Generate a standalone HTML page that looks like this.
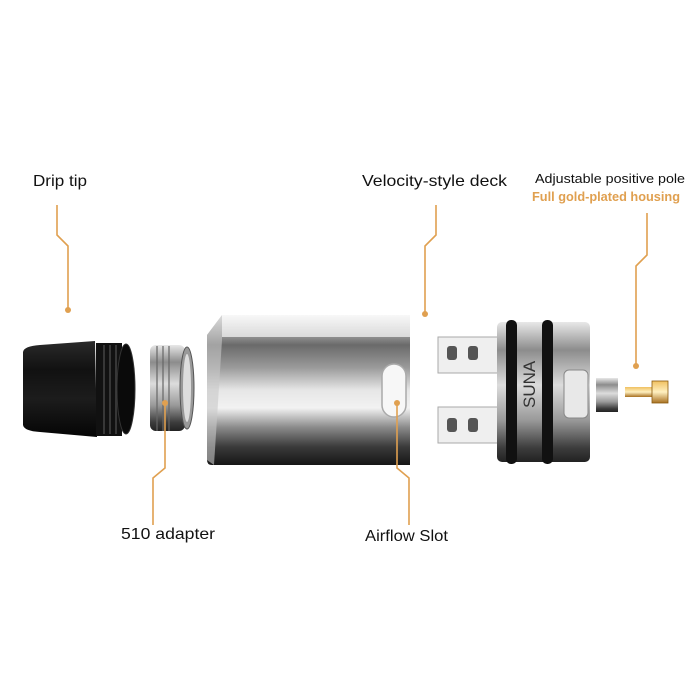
<!DOCTYPE html>
<html><head><style>
html,body{margin:0;padding:0;background:#fff;}
svg{display:block}
text{font-family:"Liberation Sans",sans-serif;}
</style></head><body>
<svg width="700" height="700" viewBox="0 0 700 700" xmlns="http://www.w3.org/2000/svg">
<defs>
<linearGradient id="black" x1="0" y1="0" x2="0" y2="1">
<stop offset="0" stop-color="#2a2a2a"/><stop offset="0.3" stop-color="#111"/><stop offset="0.6" stop-color="#1c1c1c"/><stop offset="1" stop-color="#050505"/></linearGradient>
<linearGradient id="tank" x1="0" y1="0" x2="0" y2="1">
<stop offset="0" stop-color="#f4f4f4"/><stop offset="0.08" stop-color="#bdbdbd"/><stop offset="0.2" stop-color="#6a6a6a"/><stop offset="0.35" stop-color="#9a9a9a"/><stop offset="0.5" stop-color="#e6e6e6"/><stop offset="0.62" stop-color="#f2f2f2"/><stop offset="0.75" stop-color="#8a8a8a"/><stop offset="0.88" stop-color="#3a3a3a"/><stop offset="1" stop-color="#161616"/></linearGradient>
<linearGradient id="silver" x1="0" y1="0" x2="0" y2="1">
<stop offset="0" stop-color="#e8e8e8"/><stop offset="0.2" stop-color="#8c8c8c"/><stop offset="0.45" stop-color="#dcdcdc"/><stop offset="0.7" stop-color="#9a9a9a"/><stop offset="0.9" stop-color="#3c3c3c"/><stop offset="1" stop-color="#222"/></linearGradient>
<linearGradient id="gold" x1="0" y1="0" x2="0" y2="1">
<stop offset="0" stop-color="#f0c060"/><stop offset="0.5" stop-color="#fff0c0"/><stop offset="1" stop-color="#a87020"/></linearGradient>
</defs>

<!-- labels -->
<g font-size="16" fill="#111">
<text x="33" y="186" textLength="54" lengthAdjust="spacingAndGlyphs">Drip tip</text>
<text x="362" y="186" textLength="145" lengthAdjust="spacingAndGlyphs">Velocity-style deck</text>
<text x="121" y="539" textLength="94" lengthAdjust="spacingAndGlyphs">510 adapter</text>
<text x="365" y="541" textLength="83" lengthAdjust="spacingAndGlyphs">Airflow Slot</text>
</g>
<text x="535" y="183" font-size="12.5" fill="#111" textLength="150" lengthAdjust="spacingAndGlyphs">Adjustable positive pole</text>
<text x="532" y="201" font-size="12.5" fill="#e0a050" font-weight="bold" textLength="148" lengthAdjust="spacingAndGlyphs">Full gold-plated housing</text>

<!-- leader lines -->
<g stroke="#e0a050" stroke-width="1.6" fill="none">
<polyline points="57,205 57,235 68,246 68,310"/>
<polyline points="436,205 436,235 425,246 425,313"/>
<polyline points="647,213 647,255 636,266 636,366"/>
<polyline points="165,403 165,468 153,478 153,525"/>
<polyline points="397,403 397,468 409,478 409,525"/>
</g>
<g fill="#e0a050">
<circle cx="68" cy="310" r="3"/><circle cx="425" cy="314" r="3"/><circle cx="636" cy="366" r="3"/>
</g>

<!-- drip tip -->
<path d="M23,352 Q24,346 40,345 L95,341 L97,437 L40,432 Q24,431 23,425 Z" fill="url(#black)"/>
<rect x="96" y="343" width="26" height="93" fill="#111"/>
<g stroke="#444" stroke-width="1.5"><line x1="104" y1="345" x2="104" y2="434"/><line x1="110" y1="345" x2="110" y2="434"/><line x1="116" y1="345" x2="116" y2="434"/></g>
<ellipse cx="126" cy="389" rx="9" ry="45" fill="#0a0a0a" stroke="#333" stroke-width="1"/>

<!-- 510 adapter -->
<rect x="150" y="345" width="35" height="86" rx="6" fill="url(#silver)"/>
<ellipse cx="187" cy="388" rx="7" ry="41" fill="#999" stroke="#555"/>
<ellipse cx="187" cy="388" rx="4" ry="34" fill="#ddd"/>
<g stroke="#666" stroke-width="1.2"><line x1="157" y1="346" x2="157" y2="431"/><line x1="163" y1="346" x2="163" y2="431"/><line x1="169" y1="346" x2="169" y2="431"/></g>
<circle cx="165" cy="403" r="3" fill="#e0a050"/>

<!-- tank -->
<path d="M222,315 L410,315 L410,465 L212,465 Q207,465 207,460 L207,335 Z" fill="url(#tank)"/>
<path d="M222,315 L207,335 L207,460 L214,465 L222,340 Z" fill="#c8c8c8" opacity="0.6"/>
<rect x="222" y="315" width="188" height="22" fill="#fafafa" opacity="0.7"/>
<rect x="382" y="364" width="24" height="53" rx="12" fill="#f7f7f7" stroke="#aaa" stroke-width="1.5"/>
<circle cx="397" cy="403" r="3" fill="#e0a050"/>
<line x1="397" y1="403" x2="397" y2="465" stroke="#e0a050" stroke-width="1.6"/>
<line x1="165" y1="403" x2="165" y2="431" stroke="#e0a050" stroke-width="1.6"/>

<!-- deck posts -->
<rect x="438" y="337" width="62" height="36" fill="#efefef" stroke="#aaa"/>
<rect x="438" y="407" width="62" height="36" fill="#efefef" stroke="#aaa"/>
<g fill="#555">
<rect x="447" y="346" width="10" height="14" rx="3"/><rect x="468" y="346" width="10" height="14" rx="3"/>
<rect x="447" y="418" width="10" height="14" rx="3"/><rect x="468" y="418" width="10" height="14" rx="3"/>
</g>

<!-- base -->
<rect x="497" y="322" width="93" height="140" rx="5" fill="url(#silver)"/>
<rect x="506" y="320" width="11" height="144" rx="5" fill="#111"/>
<rect x="542" y="320" width="11" height="144" rx="5" fill="#111"/>
<text x="0" y="0" font-size="17" fill="#333" transform="translate(535,408) rotate(-90)">SUNA</text>
<rect x="564" y="370" width="24" height="48" rx="5" fill="#e8e8e8" stroke="#888"/>
<rect x="596" y="378" width="22" height="34" fill="url(#silver)"/>
<!-- gold screw -->
<rect x="625" y="387" width="30" height="10" fill="url(#gold)"/>
<rect x="652" y="381" width="16" height="22" fill="url(#gold)" stroke="#8a5a10" stroke-width="0.8"/>
</svg>
</body></html>
